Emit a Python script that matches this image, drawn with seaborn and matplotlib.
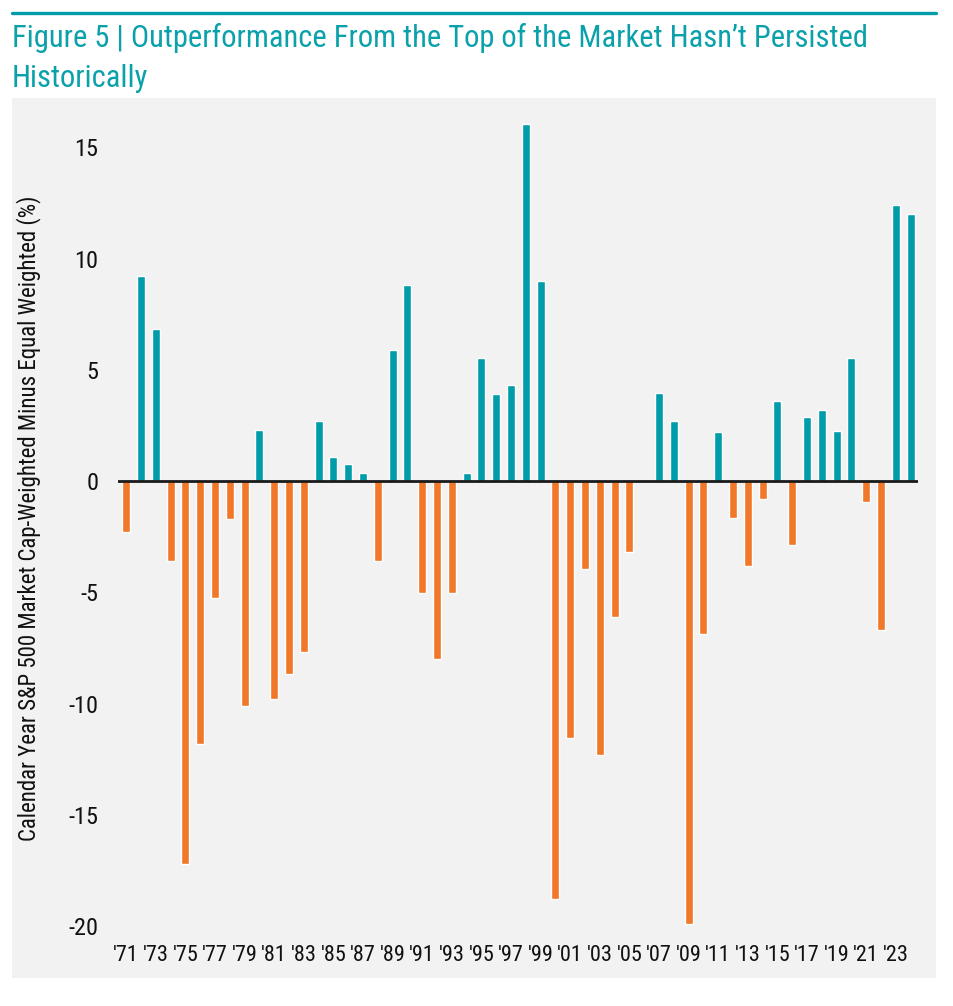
import numpy as np
import pandas as pd
import matplotlib
matplotlib.use("Agg")
import matplotlib.pyplot as plt
from matplotlib.patches import Rectangle
from matplotlib.lines import Line2D
import seaborn as sns

# ---------------- data ----------------
years = list(range(1971, 2025))
values = [
    -2.3, 9.2, 6.85, -3.6, -17.2, -11.8, -5.25, -1.7, -10.1, 2.3,      # 1971-1980
    -9.8, -8.65, -7.7, 2.7, 1.1, 0.75, 0.35, -3.6, 5.9, 8.8,           # 1981-1990
    -5.05, -8.0, -5.05, 0.35, 5.55, 3.9, 4.3, 16.05, 9.0, -18.8,       # 1991-2000
    -11.55, -3.95, -12.3, -6.1, -3.2, 0.0, 3.95, 2.7, -19.9, -6.85,    # 2001-2010
    2.2, -1.65, -3.8, -0.8, 3.6, -2.85, 2.9, 3.2, 2.25, 5.55,          # 2011-2020
    -0.95, -6.7, 12.4, 12.0,                                           # 2021-2024
]
xtick_labels = ["'71", "'73", "'75", "'77", "'79", "'81", "'83", "'85", "'87", "'89",
                "'91", "'93", "'95", "'97", "'99", "'01", "'03", "'05", "'07", "'09",
                "'11", "'13", "'15", "'17", "'19", "'21", "'23"]
yticks = [-20, -15, -10, -5, 0, 5, 10, 15]

title_line1 = "Figure 5 | Outperformance From the Top of the Market Hasn\u2019t Persisted"
title_line2 = "Historically"
ylabel = "Calendar Year S&P 500 Market Cap-Weighted Minus Equal Weighted (%)"

TEAL = "#009ca9"
TITLE_TEAL = "#0aa1ab"
ORANGE = "#f07828"
PANEL = "#f2f2f2"

df = pd.DataFrame({
    "year": [str(y) for y in years],
    "value": values,
})
df["sign"] = np.where(df["value"] >= 0, "pos", "neg")

# ---------------- style ----------------
sns.set_theme(style="white")
plt.rcParams["font.family"] = ["Roboto Condensed", "Liberation Sans Narrow", "Roboto", "DejaVu Sans"]

fig = plt.figure(figsize=(9.54, 10.06), dpi=100)
fig.patch.set_facecolor("white")

# gray panel behind chart
fig.patches.append(Rectangle((12 / 954, 1 - 978 / 1006), 924 / 954, 880 / 1006,
                             transform=fig.transFigure, facecolor=PANEL,
                             edgecolor="none", zorder=-10))
# top rule
fig.add_artist(Line2D([12 / 954, 936 / 954], [1 - 13 / 1006, 1 - 13 / 1006],
                      transform=fig.transFigure, color=TEAL, lw=2.4))

ax = fig.add_axes([118 / 954, 1 - 935 / 1006, 800 / 954, 825.5 / 1006])
ax.set_facecolor("none")
ax.set_zorder(1)

sns.barplot(data=df, x="year", y="value", hue="sign",
            palette={"pos": TEAL, "neg": ORANGE}, dodge=False,
            width=0.54, legend=False, ax=ax, saturation=1)

ax.axhline(0, color="#1a1a1a", lw=2.0, zorder=5)

ax.set_xlim(-0.55, len(years) - 0.5)
ax.set_ylim(-20.4, 16.7)
ax.set_yticks(yticks)
ax.set_yticklabels([str(t) for t in yticks])
ax.set_xticks(np.arange(0, len(years), 2))
ax.set_xticklabels(xtick_labels)
ax.tick_params(axis="y", length=0, pad=14, labelsize=17.5, labelcolor="#111111")
ax.tick_params(axis="x", length=0, pad=7, labelsize=16, labelcolor="#111111")
for s in ax.spines.values():
    s.set_visible(False)
ax.grid(False)
ax.set_xlabel("")
ax.set_ylabel(ylabel, fontsize=16.5, color="#111111")
ax.yaxis.set_label_coords(-0.096, 0.505)

fig.text(12 / 954, 1 - 47 / 1006, title_line1, color=TITLE_TEAL, fontsize=22,
         ha="left", va="baseline")
fig.text(12 / 954, 1 - 87 / 1006, title_line2, color=TITLE_TEAL, fontsize=22,
         ha="left", va="baseline")

fig.savefig("out.png", dpi=100, facecolor="white")
